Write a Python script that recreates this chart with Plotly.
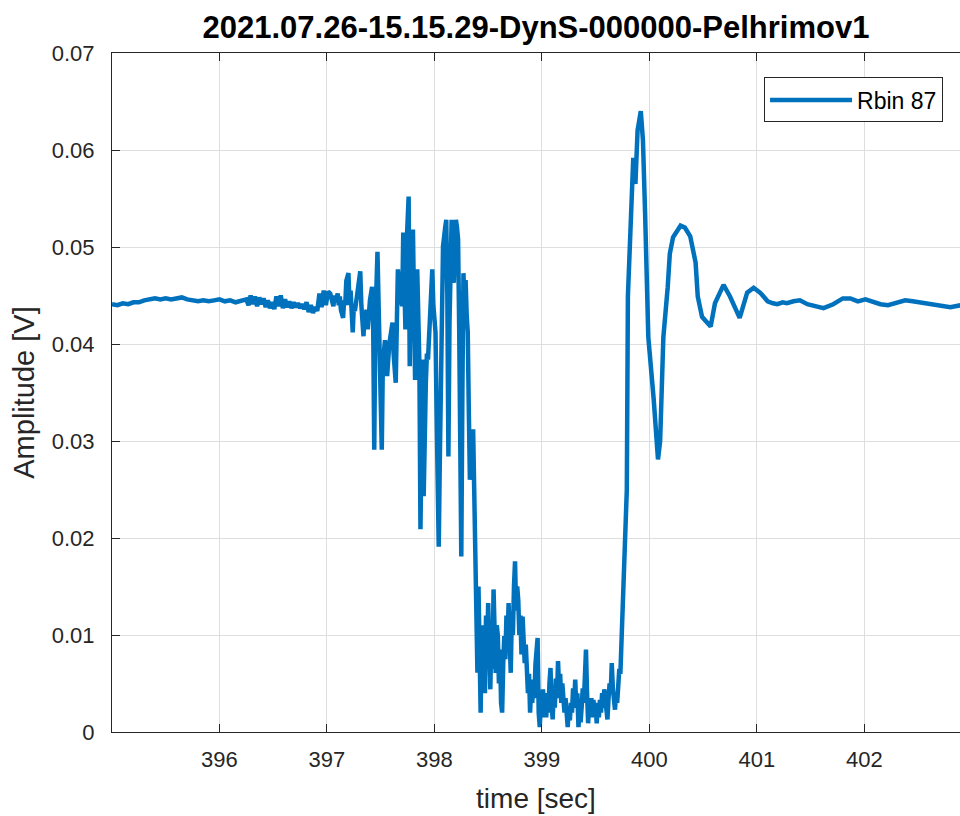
import plotly.graph_objects as go

# time [sec]
time_s = [
    395.00, 395.05, 395.10, 395.15, 395.20, 395.25, 395.30, 395.35, 395.40, 395.45,
    395.50, 395.55, 395.60, 395.65, 395.70, 395.75, 395.80, 395.85, 395.90, 395.95,
    396.00, 396.05, 396.10, 396.15, 396.20,
    396.25, 396.27, 396.29, 396.31, 396.33, 396.35, 396.37, 396.39, 396.41, 396.43,
    396.45, 396.47, 396.49, 396.51, 396.53, 396.55, 396.57, 396.59, 396.61, 396.63,
    396.65, 396.67, 396.69, 396.71, 396.73, 396.75, 396.77, 396.79, 396.81, 396.83,
    396.85, 396.87, 396.89, 396.91, 396.93, 396.95, 396.97, 396.99, 397.01,
    397.03, 397.05, 397.06, 397.07, 397.08, 397.10, 397.11, 397.12, 397.13, 397.15,
    397.16, 397.17, 397.18, 397.20, 397.21, 397.22, 397.24, 397.25, 397.26, 397.28,
    397.30, 397.31, 397.32, 397.34, 397.35, 397.37, 397.38, 397.40, 397.42, 397.43,
    397.44, 397.45, 397.47, 397.48, 397.49, 397.50, 397.51, 397.52, 397.54, 397.55,
    397.56, 397.58, 397.60, 397.61, 397.62, 397.64, 397.65, 397.66, 397.68, 397.70,
    397.71, 397.72, 397.73, 397.74, 397.76, 397.77, 397.78, 397.80, 397.81, 397.82,
    397.83, 397.84, 397.86, 397.87, 397.88, 397.89, 397.90, 397.91, 397.92, 397.93,
    397.94, 397.96, 397.98, 397.99, 398.01, 398.02, 398.04, 398.05, 398.06, 398.07,
    398.08, 398.10, 398.11, 398.12, 398.13, 398.14, 398.16, 398.17, 398.18, 398.19,
    398.20, 398.21, 398.22, 398.23, 398.24, 398.25, 398.26, 398.27, 398.28, 398.29,
    398.30, 398.31, 398.32, 398.33, 398.34, 398.35, 398.36, 398.37, 398.38, 398.39,
    398.40, 398.41, 398.42, 398.43, 398.44, 398.45, 398.46, 398.47, 398.48, 398.49,
    398.50, 398.51, 398.52, 398.53, 398.54, 398.55, 398.56, 398.57, 398.58, 398.59,
    398.60, 398.61, 398.62, 398.63, 398.64, 398.65, 398.66, 398.67, 398.68, 398.69,
    398.70, 398.71, 398.72, 398.73, 398.74, 398.75, 398.76, 398.77, 398.78, 398.79,
    398.80, 398.81, 398.82, 398.83, 398.84, 398.85, 398.86, 398.87, 398.88, 398.89,
    398.90, 398.91, 398.92, 398.93, 398.94, 398.95, 398.96, 398.97, 398.98, 398.99,
    399.00, 399.01, 399.02, 399.03, 399.04, 399.05, 399.06, 399.07, 399.08, 399.09,
    399.10, 399.11, 399.12, 399.13, 399.14, 399.15, 399.16, 399.17, 399.18, 399.19,
    399.20, 399.21, 399.22, 399.23, 399.24, 399.25, 399.26, 399.27, 399.28, 399.29,
    399.30, 399.31, 399.32, 399.33, 399.34, 399.35, 399.36, 399.37, 399.38, 399.39,
    399.40, 399.41, 399.42, 399.43, 399.44, 399.45, 399.46, 399.47, 399.48, 399.49,
    399.50, 399.51, 399.52, 399.53, 399.54, 399.55, 399.56, 399.57, 399.58, 399.59,
    399.60, 399.61, 399.62, 399.63, 399.64, 399.65, 399.66, 399.67, 399.68, 399.69,
    399.70, 399.71, 399.72, 399.73, 399.74, 399.75, 399.76, 399.77, 399.79, 399.80,
    399.83, 399.85, 399.87, 399.89, 399.92, 399.94, 399.96, 399.99, 400.04, 400.08,
    400.10, 400.13, 400.17, 400.19, 400.22, 400.29, 400.33, 400.38, 400.43, 400.45,
    400.49, 400.57, 400.61, 400.69, 400.75, 400.84, 400.91, 400.97, 401.03, 401.10,
    401.15, 401.19, 401.24, 401.28, 401.34, 401.40, 401.47, 401.55, 401.62, 401.71,
    401.80, 401.87, 401.94, 402.01, 402.08, 402.15, 402.22, 402.29, 402.38, 402.45,
    402.52, 402.59, 402.66, 402.73, 402.80, 402.90,
]

# Amplitude [V]
amplitude_v = [
    0.0441, 0.0440, 0.0442, 0.0441, 0.0443, 0.0443, 0.0445, 0.0446, 0.0447, 0.0446,
    0.0447, 0.0446, 0.0447, 0.0448, 0.0446, 0.0445, 0.0444, 0.0445, 0.0444, 0.0445,
    0.0446, 0.0444, 0.0445, 0.0443, 0.0444,
    0.0446, 0.0440, 0.0450, 0.0441, 0.0449, 0.0439, 0.0448, 0.0441, 0.0447, 0.0438,
    0.0445, 0.0437, 0.0443, 0.0436, 0.0449, 0.0439, 0.0450, 0.0437, 0.0446, 0.0438,
    0.0444, 0.0437, 0.0443, 0.0438, 0.0442, 0.0437, 0.0441, 0.0436, 0.0443, 0.0433,
    0.0440, 0.0432, 0.0438, 0.0434, 0.0452, 0.0438, 0.0455, 0.0440, 0.0454,
    0.0452, 0.0440, 0.0439, 0.0450, 0.0443, 0.0452, 0.0440, 0.0449, 0.0435, 0.0427,
    0.0445, 0.0440, 0.0465, 0.0473, 0.0440, 0.0455, 0.0412, 0.0440, 0.0434, 0.0450,
    0.0470, 0.0475, 0.0440, 0.0408, 0.0430, 0.0435, 0.0415, 0.0445, 0.0459, 0.0420,
    0.0291, 0.0420, 0.0495, 0.0450, 0.0404, 0.0370, 0.0291, 0.0380, 0.0404, 0.0385,
    0.0367, 0.0400, 0.0415, 0.0422, 0.0390, 0.0360, 0.0420, 0.0477, 0.0450, 0.0439,
    0.0515, 0.0470, 0.0415, 0.0500, 0.0552, 0.0377, 0.0470, 0.0518, 0.0450, 0.0363,
    0.0420, 0.0477, 0.0380, 0.0209, 0.0300, 0.0384, 0.0243, 0.0330, 0.0360, 0.0390,
    0.0384, 0.0430, 0.0477, 0.0440, 0.0412, 0.0330, 0.0191, 0.0280, 0.0350, 0.0440,
    0.0501, 0.0520, 0.0528, 0.0450, 0.0284, 0.0420, 0.0528, 0.0500, 0.0463, 0.0500,
    0.0528, 0.0520, 0.0508, 0.0420, 0.0300, 0.0181, 0.0350, 0.0473, 0.0440, 0.0466,
    0.0430, 0.0412, 0.0330, 0.0260, 0.0290, 0.0310, 0.0312, 0.0250, 0.0200, 0.0157,
    0.0061, 0.0150, 0.0035, 0.0020, 0.0110, 0.0060, 0.0095, 0.0040, 0.0120, 0.0080,
    0.0133, 0.0060, 0.0044, 0.0100, 0.0065, 0.0147, 0.0090, 0.0061, 0.0110, 0.0099,
    0.0050, 0.0085, 0.0030, 0.0020, 0.0070, 0.0099, 0.0075, 0.0120, 0.0090, 0.0133,
    0.0095, 0.0061, 0.0120, 0.0100, 0.0150, 0.0176, 0.0125, 0.0150, 0.0136, 0.0100,
    0.0120, 0.0080, 0.0119, 0.0090, 0.0071, 0.0090, 0.0064, 0.0040, 0.0060, 0.0020,
    0.0045, 0.0030, 0.0054, 0.0035, 0.0070, 0.0095, 0.0097, 0.0020, 0.0005, 0.0030,
    0.0015, 0.0044, 0.0025, 0.0040, 0.0015, 0.0040, 0.0020, 0.0050, 0.0066, 0.0030,
    0.0013, 0.0040, 0.0025, 0.0055, 0.0035, 0.0073, 0.0045, 0.0060, 0.0030, 0.0050,
    0.0040, 0.0020, 0.0035, 0.0010, 0.0005, 0.0025, 0.0012, 0.0030, 0.0020, 0.0045,
    0.0030, 0.0054, 0.0025, 0.0040, 0.0005, 0.0020, 0.0010, 0.0026, 0.0045, 0.0030,
    0.0060, 0.0085, 0.0040, 0.0009, 0.0030, 0.0015, 0.0035, 0.0020, 0.0033, 0.0015,
    0.0025, 0.0009, 0.0030, 0.0015, 0.0033, 0.0020, 0.0040, 0.0025, 0.0044, 0.0030,
    0.0020, 0.0013, 0.0035, 0.0050, 0.0040, 0.0071, 0.0045, 0.0030, 0.0023, 0.0040,
    0.0030, 0.0047, 0.0065, 0.0060, 0.0090, 0.0109, 0.0147, 0.0170, 0.0250, 0.0449,
    0.0556, 0.0592, 0.0565, 0.0620, 0.0640, 0.0610, 0.0535, 0.0407, 0.0343, 0.0281,
    0.0300, 0.0407, 0.0458, 0.0493, 0.0510, 0.0522, 0.0520, 0.0511, 0.0484, 0.0449,
    0.0428, 0.0418, 0.0442, 0.0461, 0.0449, 0.0427, 0.0453, 0.0458, 0.0453, 0.0444,
    0.0442, 0.0441, 0.0443, 0.0442, 0.0444, 0.0445, 0.0441, 0.0439, 0.0437, 0.0441,
    0.0447, 0.0447, 0.0444, 0.0446, 0.0443, 0.0441, 0.0440, 0.0442, 0.0445, 0.0444,
    0.0443, 0.0441, 0.0440, 0.0439, 0.0438, 0.0440,
]

x_ticks = [396, 397, 398, 399, 400, 401, 402]
y_ticks = [0, 0.01, 0.02, 0.03, 0.04, 0.05, 0.06, 0.07]
y_tick_labels = ["0", "0.01", "0.02", "0.03", "0.04", "0.05", "0.06", "0.07"]

title_text = "2021.07.26-15.15.29-DynS-000000-Pelhrimov1"
series_name = "Rbin 87"

FONT = "Liberation Sans, Arial, Helvetica, sans-serif"
INK = "#262626"
GRID = "#dedede"

fig = go.Figure()
fig.add_trace(go.Scatter(
    x=time_s, y=amplitude_v, mode="lines", name=series_name,
    line=dict(color="#0072BD", width=4.5),
))

fig.update_layout(
    width=960, height=816,
    margin=dict(l=112, r=0, t=53, b=84),
    paper_bgcolor="white", plot_bgcolor="white",
    font=dict(family=FONT, size=22, color=INK),
    title=dict(text="<b>" + title_text + "</b>", x=(112 + 960) / 2 / 960, xanchor="center",
               y=1 - 27 / 816, yanchor="middle", font=dict(size=31, color="black")),
    showlegend=True,
    legend=dict(x=0.98, y=0.964, xanchor="right", yanchor="top",
                bordercolor=INK, borderwidth=1, bgcolor="white",
                font=dict(size=23, color="black"), itemwidth=82),
)

fig.update_xaxes(
    range=[395.0, 402.89], tickvals=x_ticks, ticktext=[str(v) for v in x_ticks],
    showgrid=True, gridcolor=GRID, gridwidth=1,
    showline=True, linecolor=INK, linewidth=1, mirror="ticks",
    ticks="inside", ticklen=8, tickcolor=INK, ticklabelstandoff=8,
    zeroline=False,
    title=dict(text="time [sec]", font=dict(size=28, color=INK), standoff=16),
)
fig.update_yaxes(
    range=[0, 0.07], tickvals=y_ticks, ticktext=y_tick_labels,
    showgrid=True, gridcolor=GRID, gridwidth=1,
    showline=True, linecolor=INK, linewidth=1, mirror=False,
    ticks="inside", ticklen=8, tickcolor=INK, ticklabelstandoff=12,
    zeroline=False,
    title=dict(text="Amplitude [V]", font=dict(size=29, color=INK), standoff=8),
)

fig.write_html("out.html", config={"displayModeBar": False},
               post_script="document.body.style.margin='0px';")
